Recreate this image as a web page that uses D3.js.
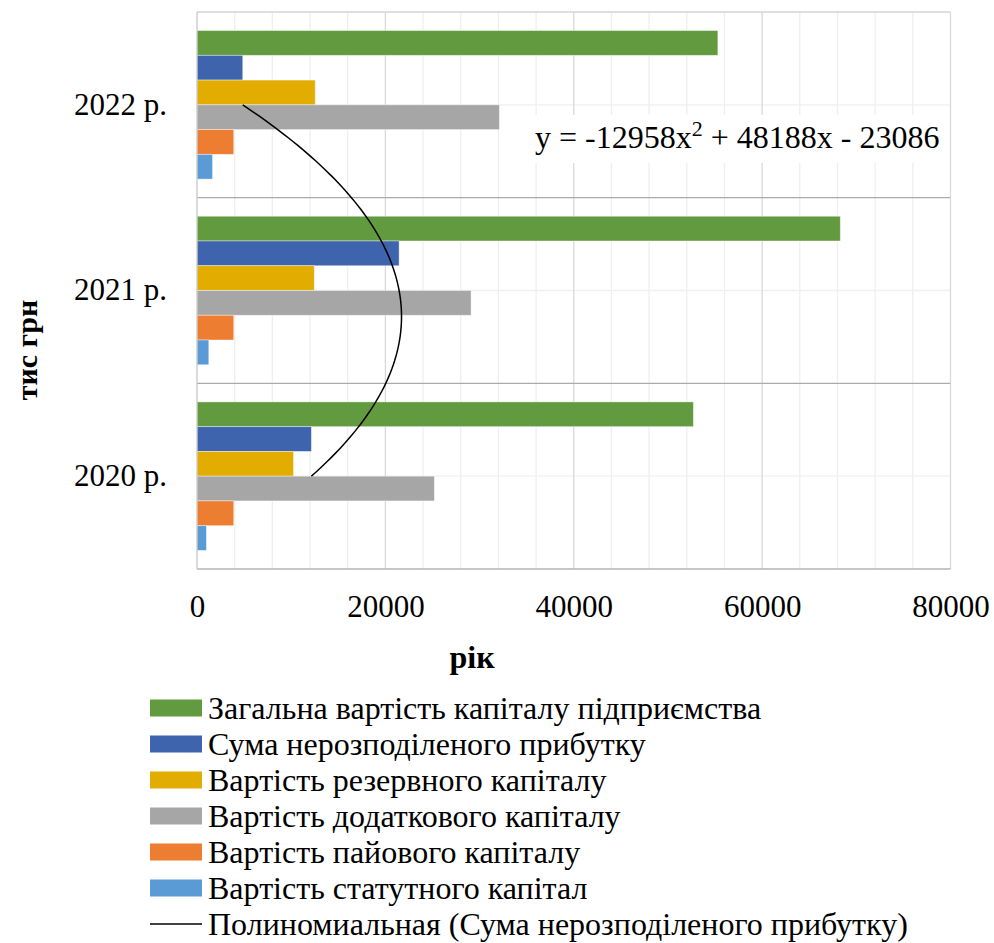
<!DOCTYPE html>
<html>
<head>
<meta charset="utf-8">
<script src="https://cdn.jsdelivr.net/npm/d3@7/dist/d3.min.js"></script>
<style>
  html, body { margin: 0; padding: 0; background: #fff; }
  svg { display: block; }
  text { font-family: "Liberation Serif", "Times New Roman", serif; fill: #000; }
</style>
</head>
<body>
<svg id="chart" width="994" height="943"></svg>
<script>
// ---- Data ----
const categories = ["2020 р.", "2021 р.", "2022 р."];
const seriesNames = [
  "Загальна вартість капіталу підприємства",
  "Сума нерозподіленого прибутку",
  "Вартість резервного капіталу",
  "Вартість додаткового капіталу",
  "Вартість пайового капіталу",
  "Вартість статутного капітал"
];
const totalCapital      = [52700, 68300, 55300];
const retainedEarnings  = [12144, 21458, 4856];
const reserveCapital    = [10250, 12450, 12550];
const additionalCapital = [25200, 29100, 32100];
const shareCapital      = [3900, 3900, 3900];
const statutoryCapital  = [1000, 1250, 1650];
const seriesColors = ["#629B3F", "#3D64AD", "#E2AC00", "#A6A6A6", "#ED7D31", "#5B9BD5"];
const xTicks = [0, 20000, 40000, 60000, 80000];
const trendCoef = [-12958, 48188, -23086]; // a x^2 + b x + c
const trendLabel = "Полиномиальная (Сума нерозподіленого прибутку)";
const xTitle = "рік";
const yTitle = "тис грн";

const seriesValues = [totalCapital, retainedEarnings, reserveCapital, additionalCapital, shareCapital, statutoryCapital];

// ---- Layout ----
const svg = d3.select("#chart");
const plot = { left: 197, right: 950.5, top: 12, bottom: 569 };

const x = d3.scaleLinear().domain([0, 80000]).range([plot.left, plot.right]);
const yOrder = categories.slice().reverse(); // top: 2022
const y = d3.scaleBand().domain(yOrder).range([plot.top, plot.bottom]).paddingInner(0).paddingOuter(0);
const yInner = d3.scaleBand().domain(d3.range(seriesNames.length)).range([0, y.bandwidth()]).paddingInner(0).paddingOuter(0.75);

// ---- Gridlines ----
const g = svg.append("g");
const minorTicks = d3.range(0, 80001, 4000);
g.selectAll("line.vminor").data(minorTicks.filter(t => t % 20000 !== 0)).enter().append("line")
  .attr("x1", d => x(d)).attr("x2", d => x(d))
  .attr("y1", plot.top).attr("y2", plot.bottom)
  .attr("stroke", "#EFEFEF").attr("stroke-width", 1.3);
g.selectAll("line.hminor").data(yOrder).enter().append("line")
  .attr("x1", plot.left).attr("x2", plot.right)
  .attr("y1", d => y(d) + y.bandwidth() / 2).attr("y2", d => y(d) + y.bandwidth() / 2)
  .attr("stroke", "#F0F0F0").attr("stroke-width", 1.3);
g.selectAll("line.vmajor").data(xTicks.slice(1, -1)).enter().append("line")
  .attr("x1", d => x(d)).attr("x2", d => x(d))
  .attr("y1", plot.top).attr("y2", plot.bottom)
  .attr("stroke", "#D9D9D9").attr("stroke-width", 1.3);

// ---- Bars ----
const barData = [];
categories.forEach((c, ci) => {
  seriesValues.forEach((vals, si) => {
    barData.push({ cat: c, s: si, v: vals[ci] });
  });
});
svg.append("g").selectAll("rect").data(barData).enter().append("rect")
  .attr("x", x(0))
  .attr("y", d => y(d.cat) + yInner(d.s))
  .attr("width", d => x(d.v) - x(0))
  .attr("height", yInner.bandwidth())
  .attr("fill", d => seriesColors[d.s])
  .attr("stroke", "#ffffff").attr("stroke-opacity", 0.5).attr("stroke-width", 0.8);

// ---- Category separators and border ----
const b = svg.append("g");
b.selectAll("line.sep").data(yOrder.slice(1)).enter().append("line")
  .attr("x1", plot.left).attr("x2", plot.right)
  .attr("y1", d => y(d)).attr("y2", d => y(d))
  .attr("stroke", "#ABABAB").attr("stroke-width", 1.3);
b.append("line").attr("x1", plot.left).attr("x2", plot.right).attr("y1", plot.top).attr("y2", plot.top)
  .attr("stroke", "#D4D4D4").attr("stroke-width", 1.3);
b.append("line").attr("x1", plot.right).attr("x2", plot.right).attr("y1", plot.top).attr("y2", plot.bottom)
  .attr("stroke", "#D9D9D9").attr("stroke-width", 1.3);
b.append("line").attr("x1", plot.left).attr("x2", plot.right).attr("y1", plot.bottom).attr("y2", plot.bottom)
  .attr("stroke", "#B5B5B5").attr("stroke-width", 1.3);
b.append("line").attr("x1", plot.left).attr("x2", plot.left).attr("y1", plot.top).attr("y2", plot.bottom)
  .attr("stroke", "#C8C8C8").attr("stroke-width", 1.3);

// ---- Trendline (polynomial on category index 1..3) ----
const catIdx = d3.scaleLinear().domain([1, categories.length])
  .range([y(categories[0]) + y.bandwidth() / 2, y(categories[categories.length - 1]) + y.bandwidth() / 2]);
const poly = t => trendCoef[0] * t * t + trendCoef[1] * t + trendCoef[2];
const tSamples = d3.range(1, 3.0001, 0.02);
svg.append("path")
  .datum(tSamples)
  .attr("d", d3.line().x(t => x(poly(t))).y(t => catIdx(t)))
  .attr("fill", "none").attr("stroke", "#000").attr("stroke-width", 1.5);

// ---- Equation label ----
svg.append("rect").attr("x", 527).attr("y", 115).attr("width", 421).attr("height", 48).attr("fill", "#fff");
const eq = svg.append("text").attr("x", 535).attr("y", 148).attr("font-size", 32);
eq.append("tspan").text("y = -12958x");
eq.append("tspan").attr("dy", -12).attr("font-size", 22).text("2");
eq.append("tspan").attr("dy", 12).text(" + 48188x - 23086");

// ---- Axes ----
const xAxis = d3.axisBottom(x).tickValues(xTicks).tickSize(0).tickPadding(0).tickFormat(d3.format("d"));
const xa = svg.append("g").attr("transform", `translate(0,${plot.bottom})`).call(xAxis);
xa.select(".domain").remove();
xa.selectAll("text").attr("font-size", 31).attr("font-family", "Liberation Serif").attr("fill", "#000")
  .attr("dy", null).attr("y", 48);

const yAxis = d3.axisLeft(y).tickSize(0).tickPadding(0);
const ya = svg.append("g").attr("transform", `translate(167,0)`).call(yAxis);
ya.select(".domain").remove();
ya.selectAll("text").attr("font-size", 31).attr("font-family", "Liberation Serif").attr("fill", "#000")
  .attr("dy", "0.32em").attr("x", 0);

// ---- Axis titles ----
svg.append("text").attr("x", 472).attr("y", 668).attr("text-anchor", "middle")
  .attr("font-size", 32).attr("font-weight", "bold").text(xTitle);
svg.append("text").attr("transform", "translate(37,350) rotate(-90)").attr("text-anchor", "middle")
  .attr("font-size", 30).attr("font-weight", "bold").text(yTitle);

// ---- Legend ----
const legend = svg.append("g");
const legTop = 708, legStep = 36;
seriesNames.forEach((name, i) => {
  const cy = legTop + i * legStep;
  legend.append("rect").attr("x", 150).attr("y", cy - 8.5).attr("width", 52).attr("height", 17).attr("fill", seriesColors[i]);
  legend.append("text").attr("x", 208).attr("y", cy).attr("dy", "0.34em").attr("font-size", 32).text(name);
});
const ly = legTop + seriesNames.length * legStep;
legend.append("line").attr("x1", 150).attr("x2", 202).attr("y1", ly).attr("y2", ly).attr("stroke", "#000").attr("stroke-width", 1.3);
legend.append("text").attr("x", 208).attr("y", ly).attr("dy", "0.34em").attr("font-size", 32).text(trendLabel);
</script>
</body>
</html>
